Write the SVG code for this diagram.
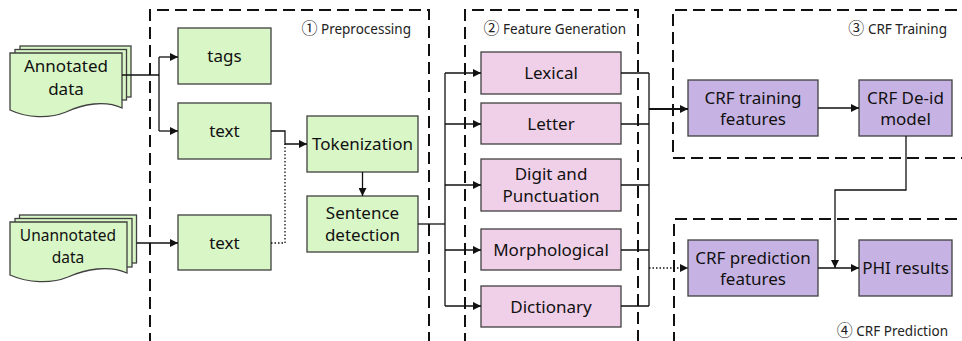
<svg xmlns="http://www.w3.org/2000/svg" width="962" height="341" viewBox="0 0 962 341">
<style>
.bx{stroke:#404040;stroke-width:1.3}
.g{fill:#d9f6c6}
.p{fill:#f0d0e8}
.v{fill:#c7b3e3}
.t{font-family:"Noto Sans","Open Sans","DejaVu Sans",sans-serif;font-size:17px;fill:#111;text-anchor:middle}
.lb{font-family:"Noto Sans","DejaVu Sans","Noto Sans CJK SC",sans-serif;font-size:13.5px;fill:#222;text-anchor:end}
.cd{font-family:"Noto Sans CJK SC","DejaVu Sans",sans-serif;font-size:16px}
.ln{fill:none;stroke:#111;stroke-width:1.3}
.dt{stroke-dasharray:1.5 2}
.ds{fill:none;stroke:#111;stroke-width:2;stroke-dasharray:12 6}
</style>
<defs>
<marker id="ar" viewBox="0 0 10 10" refX="10" refY="5" markerWidth="9" markerHeight="8" markerUnits="userSpaceOnUse" orient="auto">
<path d="M0,0 L10,5 L0,10 Z" fill="#111"/>
</marker>
</defs>

<g id="regions">
<path class="ds" d="M150,345 V10 H429 V345"/>
<path class="ds" d="M465,345 V10 H638 V345"/>
<path class="ds" d="M975,10 H673 V158 H975"/>
<path class="ds" d="M975,219 H674 V345"/>
<text class="lb" x="411" y="34"><tspan class="cd">①</tspan> Preprocessing</text>
<text class="lb" x="626" y="34"><tspan class="cd">②</tspan> Feature Generation</text>
<text class="lb" x="947" y="34"><tspan class="cd">③</tspan> CRF Training</text>
<text class="lb" x="948" y="336"><tspan class="cd">④</tspan> CRF Prediction</text>
</g>

<g id="annotated">
<rect class="bx g" x="20" y="46" width="111" height="51"/>
<rect class="bx g" x="15" y="49.5" width="111.5" height="50.5"/>
<path class="bx g" d="M10,53 H122 V108 C105,100 83,104 66,112 C49,119 27,118 10,110 Z"/>
<text class="t" x="66" y="72">Annotated</text>
<text class="t" x="66" y="95">data</text>
</g>

<g id="unannotated">
<rect class="bx g" x="19.5" y="215" width="117" height="48"/>
<rect class="bx g" x="15" y="218.5" width="117" height="48.5"/>
<path class="bx g" d="M10,222 H127 V273 C109,265 86,269 68,277 C51,284 28,283 10,275 Z"/>
<text class="t" x="68" y="241" style="font-size:15.5px">Unannotated</text>
<text class="t" x="68" y="263" style="font-size:15.5px">data</text>
</g>

<g id="tags"><rect class="bx g" x="178" y="28" width="93" height="56"/><text class="t" x="224.5" y="62">tags</text></g>
<g id="text1"><rect class="bx g" x="178" y="103" width="93" height="56"/><text class="t" x="224.5" y="137">text</text></g>
<g id="text2"><rect class="bx g" x="178" y="215" width="93" height="55"/><text class="t" x="224.5" y="248.5">text</text></g>
<g id="tokenization"><rect class="bx g" x="307" y="116" width="111" height="56"/><text class="t" x="362.5" y="150">Tokenization</text></g>
<g id="sentence"><rect class="bx g" x="307" y="196" width="111" height="56"/><text class="t" x="362.5" y="218.5">Sentence</text><text class="t" x="362.5" y="241">detection</text></g>

<g id="lexical"><rect class="bx p" x="481" y="52" width="140" height="42"/><text class="t" x="551" y="79">Lexical</text></g>
<g id="letter"><rect class="bx p" x="481" y="103" width="140" height="41"/><text class="t" x="551" y="130">Letter</text></g>
<g id="digit"><rect class="bx p" x="481" y="159" width="140" height="52"/><text class="t" x="551" y="180">Digit and</text><text class="t" x="551" y="201.5">Punctuation</text></g>
<g id="morph"><rect class="bx p" x="481" y="229" width="140" height="41"/><text class="t" x="551" y="256">Morphological</text></g>
<g id="dictionary"><rect class="bx p" x="481" y="286" width="140" height="41"/><text class="t" x="551" y="312.5">Dictionary</text></g>

<g id="crftrain"><rect class="bx v" x="688" y="80" width="130" height="56"/><text class="t" x="753" y="104">CRF training</text><text class="t" x="753" y="125">features</text></g>
<g id="deid"><rect class="bx v" x="859" y="80" width="93" height="56"/><text class="t" x="905.5" y="104">CRF De-id</text><text class="t" x="905.5" y="125">model</text></g>
<g id="crfpred"><rect class="bx v" x="688" y="240" width="130" height="56"/><text class="t" x="753" y="263.5">CRF prediction</text><text class="t" x="753" y="284.5">features</text></g>
<g id="phi"><rect class="bx v" x="859" y="240" width="93" height="56"/><text class="t" x="905.5" y="274">PHI results</text></g>

<g id="connectors">
<path class="ln" d="M122,75 H159"/>
<path class="ln" d="M159,57 V131"/>
<path class="ln" d="M159,57 H178" marker-end="url(#ar)"/>
<path class="ln" d="M159,131 H178" marker-end="url(#ar)"/>
<path class="ln" d="M136.5,243 H178" marker-end="url(#ar)"/>
<path class="ln" d="M271,131 H285 V144 H307" marker-end="url(#ar)"/>
<path class="ln dt" d="M271,243 H285 V144"/>
<path class="ln" d="M362.5,172 V196" marker-end="url(#ar)"/>
<path class="ln" d="M418,224 H445"/>
<path class="ln" d="M445,73 V306"/>
<path class="ln" d="M445,73 H481" marker-end="url(#ar)"/>
<path class="ln" d="M445,124 H481" marker-end="url(#ar)"/>
<path class="ln" d="M445,185 H481" marker-end="url(#ar)"/>
<path class="ln" d="M445,250 H481" marker-end="url(#ar)"/>
<path class="ln" d="M445,306 H481" marker-end="url(#ar)"/>
<path class="ln" d="M621,73 H649 M621,124 H649 M621,185 H649 M621,250 H649 M621,306 H649 M649,73 V306"/>
<path class="ln" style="stroke-width:2" d="M649,109 H688" marker-end="url(#ar)"/>
<path class="ln dt" d="M649,268 H688" marker-end="url(#ar)"/>
<path class="ln" d="M818,108 H859" marker-end="url(#ar)"/>
<path class="ln" d="M818,268 H859" marker-end="url(#ar)"/>
<path class="ln" d="M906,136 V190 H835 V268" marker-end="url(#ar)"/>
</g>
</svg>
